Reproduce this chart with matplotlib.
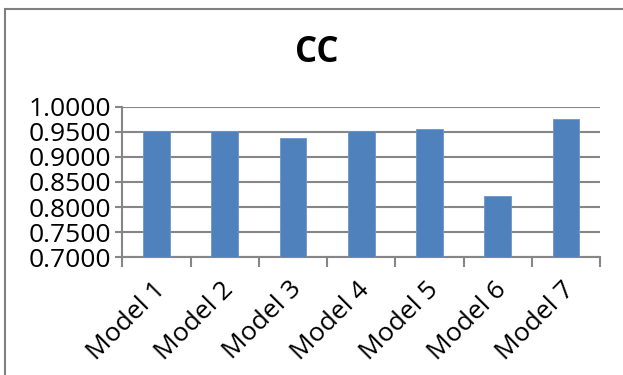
import numpy as np
import matplotlib.pyplot as plt
import matplotlib.transforms as mtransforms
from matplotlib.patches import Rectangle

# CC score per model
models = ["Model 1", "Model 2", "Model 3", "Model 4", "Model 5", "Model 6", "Model 7"]
cc_values = [0.951, 0.951, 0.937, 0.951, 0.955, 0.822, 0.975]
y_ticks = [0.70, 0.75, 0.80, 0.85, 0.90, 0.95, 1.00]

plt.rcParams["font.family"] = ["Open Sans", "DejaVu Sans"]
grid_col = "#868686"

fig = plt.figure(figsize=(6.23, 3.75), dpi=100)
ax = fig.add_axes([0.1966, 0.3139, 0.7664, 0.4016])

# chart border, only the left and top edges fall inside the image
fig.patches.append(Rectangle((5 / 623, -0.1), 1.2, (375 - 9) / 375 + 0.1,
                             transform=fig.transFigure, fill=False,
                             edgecolor="#808080", linewidth=1.5))

x = np.arange(len(models))
ax.bar(x, cc_values, width=0.39, color="#4F81BD", edgecolor="#6D96CC",
       linewidth=0.6, zorder=3)

ax.set_xlim(-0.5, len(models) - 0.5)
ax.set_ylim(0.70, 1.00)
ax.set_yticks(y_ticks)
ax.set_yticklabels([f"{v:.4f}" for v in y_ticks], fontsize=19)
ax.yaxis.grid(True, color=grid_col, linewidth=1.5, zorder=0)

# category boundary ticks on the x axis, labels centred under bars
ax.set_xticks(np.arange(-0.5, len(models), 1.0))
ax.set_xticklabels([])
ax.set_xticks(x, minor=True)
ax.set_xticklabels(models, minor=True, rotation=45, ha="right",
                   rotation_mode="anchor", fontsize=19)
ax.tick_params(axis="x", which="minor", length=0, pad=14)
ax.tick_params(axis="x", which="major", length=7, width=1.5, color=grid_col)
ax.tick_params(axis="y", length=5, width=1.5, color=grid_col, pad=3)

# nudge the slanted labels a little to the left
shift = mtransforms.ScaledTranslation(-4 / 100, 0, fig.dpi_scale_trans)
for lbl in ax.get_xticklabels(minor=True):
    lbl.set_transform(lbl.get_transform() + shift)

for side in ["top", "right"]:
    ax.spines[side].set_visible(False)
for side in ["left", "bottom"]:
    ax.spines[side].set_color(grid_col)
    ax.spines[side].set_linewidth(1.5)

fig.text(317 / 623, 1 - 52.5 / 375, "CC", ha="center", va="center",
         fontsize=25, fontweight="bold")

fig.savefig("out.png", dpi=100)
